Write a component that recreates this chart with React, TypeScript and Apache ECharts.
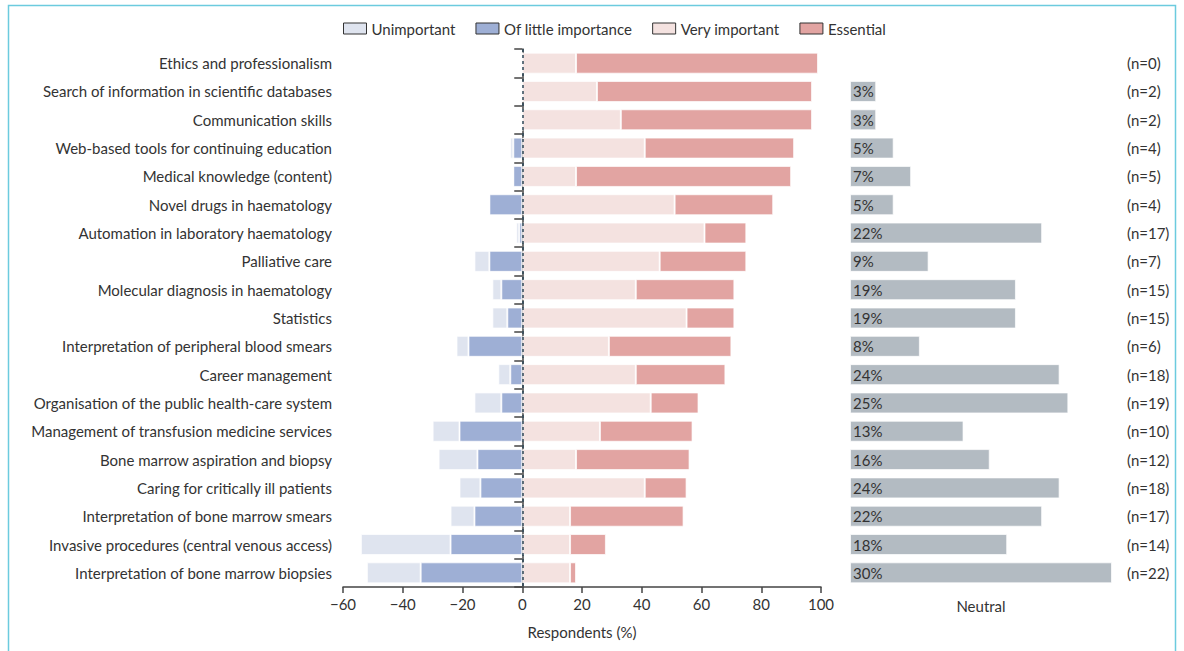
import React, { useEffect, useRef } from "react";
import * as echarts from "echarts";

const categories = [
  "Ethics and professionalism",
  "Search of information in scientific databases",
  "Communication skills",
  "Web-based tools for continuing education",
  "Medical knowledge (content)",
  "Novel drugs in haematology",
  "Automation in laboratory haematology",
  "Palliative care",
  "Molecular diagnosis in haematology",
  "Statistics",
  "Interpretation of peripheral blood smears",
  "Career management",
  "Organisation of the public health-care system",
  "Management of transfusion medicine services",
  "Bone marrow aspiration and biopsy",
  "Caring for critically ill patients",
  "Interpretation of bone marrow smears",
  "Invasive procedures (central venous access)",
  "Interpretation of bone marrow biopsies",
];

const unimportant = [0, 0, 0, 1, 0, 0, 1, 5, 3, 5, 4, 4, 9, 9, 13, 7, 8, 30, 18];
const littleImportance = [0, 0, 0, 3, 3, 11, 1, 11, 7, 5, 18, 4, 7, 21, 15, 14, 16, 24, 34];
const veryImportant = [18, 25, 33, 41, 18, 51, 61, 46, 38, 55, 29, 38, 43, 26, 18, 41, 16, 16, 16];
const essential = [81, 72, 64, 50, 72, 33, 14, 29, 33, 16, 41, 30, 16, 31, 38, 14, 38, 12, 2];
const neutral = [0, 3, 3, 5, 7, 5, 22, 9, 19, 19, 8, 24, 25, 13, 16, 24, 22, 18, 30];
const nCounts = [0, 2, 2, 4, 5, 4, 17, 7, 15, 15, 6, 18, 19, 10, 12, 18, 17, 14, 22];

const legendNames = ["Unimportant", "Of little importance", "Very important", "Essential"];
const colors = {
  unimportant: "#dfe4ef",
  little: "#9eafd5",
  very: "#f4e2e0",
  essential: "#e2a4a2",
  neutral: "#b3bbc2",
};

const FONT = "Lato";
const TEXT = "#333333";
const FS = 15;

export default function App() {
  const ref = useRef<HTMLDivElement>(null);

  useEffect(() => {
    if (!ref.current) return;
    const chart = echarts.init(ref.current, undefined, { renderer: "svg" });
    const barW = 21;
    const segBorder = { borderColor: "rgba(255,255,255,0.7)", borderWidth: 1 };
    const option: any = {
      animation: false,
      backgroundColor: "#ffffff",
      textStyle: { fontFamily: FONT, color: TEXT },
      legend: {
        data: legendNames,
        left: 338,
        top: 16,
        itemWidth: 23,
        itemHeight: 11,
        itemGap: 20,
        icon: "rect",
        textStyle: { fontSize: FS, color: TEXT, fontFamily: FONT },
        itemStyle: { borderColor: "#333", borderWidth: 1 },
      },
      graphic: [
        {
          type: "rect",
          shape: { x: 8.5, y: 5.5, width: 1167, height: 700 },
          style: { fill: "none", stroke: "#6ccbde", lineWidth: 1.5 },
          silent: true,
        },
      ],
      grid: [
        { left: 343, right: 363, top: 49, bottom: 64 },
        { left: 850, right: 72, top: 49, bottom: 64 },
      ],
      xAxis: [
        {
          type: "value",
          gridIndex: 0,
          min: -60,
          max: 100,
          interval: 20,
          splitLine: { show: false },
          axisLine: { show: true, lineStyle: { color: "#444", width: 1.5 } },
          axisTick: { show: true, length: 6, lineStyle: { color: "#444", width: 1.5 } },
          axisLabel: {
            fontSize: FS,
            color: TEXT,
            fontFamily: FONT,
            margin: 9,
            formatter: (v: number) => String(v).replace("-", "\u2212"),
          },
          name: "Respondents (%)",
          nameLocation: "middle",
          nameGap: 37,
          nameTextStyle: { fontSize: FS, color: TEXT, fontFamily: FONT },
        },
        {
          type: "value",
          gridIndex: 1,
          min: 0,
          max: 30,
          show: true,
          splitLine: { show: false },
          axisLine: { show: false },
          axisTick: { show: false },
          axisLabel: { show: false },
          name: "Neutral",
          nameLocation: "middle",
          nameGap: 11,
          nameTextStyle: { fontSize: FS, color: TEXT, fontFamily: FONT },
        },
      ],
      yAxis: [
        {
          type: "category",
          gridIndex: 0,
          data: categories,
          inverse: true,
          axisLine: { show: true, lineStyle: { color: "#444", width: 1.5 } },
          axisTick: { show: true, length: 8, lineStyle: { color: "#444", width: 1.5 } },
          axisLabel: { fontSize: FS, color: TEXT, fontFamily: FONT, margin: 11 },
        },
        {
          type: "category",
          gridIndex: 1,
          data: categories,
          inverse: true,
          position: "right",
          axisLine: { show: false },
          axisTick: { show: false },
          axisLabel: {
            fontSize: FS,
            color: TEXT,
            fontFamily: FONT,
            margin: 15,
            padding: [0, 0, 8, 0],
            formatter: (_v: string, i: number) => `(n=${nCounts[i]})`,
          },
        },
      ],
      series: [
        {
          name: "Of little importance",
          type: "bar",
          stack: "total",
          barWidth: barW,
          xAxisIndex: 0,
          yAxisIndex: 0,
          data: littleImportance.map((v) => -v),
          itemStyle: { color: colors.little, ...segBorder },
        },
        {
          name: "Unimportant",
          type: "bar",
          stack: "total",
          barWidth: barW,
          xAxisIndex: 0,
          yAxisIndex: 0,
          data: unimportant.map((v) => -v),
          itemStyle: { color: colors.unimportant, ...segBorder },
        },
        {
          name: "Very important",
          type: "bar",
          stack: "total",
          barWidth: barW,
          xAxisIndex: 0,
          yAxisIndex: 0,
          data: veryImportant,
          itemStyle: { color: colors.very, ...segBorder },
        },
        {
          name: "Essential",
          type: "bar",
          stack: "total",
          barWidth: barW,
          xAxisIndex: 0,
          yAxisIndex: 0,
          data: essential,
          itemStyle: { color: colors.essential, ...segBorder },
          markLine: {
            silent: true,
            symbol: "none",
            label: { show: false },
            z: 10,
            lineStyle: { color: "#2f4858", type: [3, 3], width: 1.5 },
            data: [{ xAxis: 0 }],
          },
        },
        {
          name: "Neutral",
          type: "bar",
          barWidth: barW,
          xAxisIndex: 1,
          yAxisIndex: 1,
          data: neutral,
          itemStyle: { color: colors.neutral, ...segBorder },
          label: {
            show: true,
            position: "insideLeft",
            offset: [-2, 0],
            fontSize: FS,
            color: TEXT,
            fontFamily: FONT,
            formatter: (p: any) => (p.value > 0 ? `${p.value}%` : ""),
          },
        },
      ],
    };
    chart.setOption(option);
    return () => chart.dispose();
  }, []);

  return (
    <div
      ref={ref}
      style={{ position: "fixed", left: 0, top: 0, width: 1184, height: 651 }}
    />
  );
}
